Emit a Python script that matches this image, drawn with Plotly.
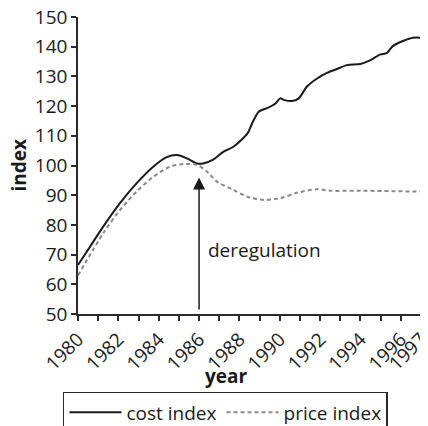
import plotly.graph_objects as go

# ---- data ----
cost_years = [1980.0, 1980.6, 1981.25, 1982.08, 1982.9, 1983.73, 1984.4, 1984.9, 1985.4, 1985.9,
              1986.2, 1986.7, 1987.2, 1987.7, 1988.4, 1988.63, 1988.96, 1989.37, 1989.79, 1990.03,
              1990.2, 1990.6, 1990.94, 1991.35, 1991.85, 1992.34, 1992.84, 1993.33, 1994.0, 1994.5,
              1994.99, 1995.3, 1995.6, 1996.14, 1996.6, 1997.0]
cost_index = [66.5, 72.7, 79.4, 87.3, 94.0, 99.6, 102.8, 103.5, 102.4, 100.7,
              100.7, 102.0, 104.6, 106.3, 110.8, 114.2, 118.1, 119.3, 120.9, 122.6,
              122.1, 121.7, 122.6, 126.6, 129.3, 131.2, 132.5, 133.8, 134.2, 135.5,
              137.4, 137.8, 140.2, 142.0, 143.0, 143.0]

price_years = [1980.0, 1981.25, 1982.08, 1982.9, 1983.73, 1984.55, 1985.2, 1985.9, 1986.4, 1986.9,
               1987.7, 1988.4, 1989.2, 1990.03, 1990.85, 1991.85, 1992.5, 1994.0, 1997.0]
price_index = [63.0, 77.2, 85.0, 91.2, 96.2, 99.6, 100.5, 100.2, 97.9, 94.5,
               91.8, 89.5, 88.4, 89.0, 90.8, 92.0, 91.5, 91.5, 91.2]

tick_years = list(range(1980, 1998))
tick_labels = [str(y) if (y % 2 == 0 or y == 1997) else "" for y in tick_years]
y_ticks = list(range(50, 151, 10))

event_year = 1986
event_label = "deregulation"

FONT = "Open Sans"
FS = 19
AX = "#2a2a2a"

fig = go.Figure()
fig.add_trace(go.Scatter(x=cost_years, y=cost_index, mode="lines", name="cost index",
                         line=dict(color="#1a1a1a", width=2, shape="spline", smoothing=0.8)))
fig.add_trace(go.Scatter(x=price_years, y=price_index, mode="lines", name="price index",
                         line=dict(color="#8a8a8a", width=2, dash="4px,3px", shape="spline", smoothing=0.8)))

# page has an 8px body margin, so the figure is 8px smaller and margins shifted
fig.update_layout(
    width=420, height=418,
    margin=dict(l=70, r=7, t=9, b=112, autoexpand=False),
    plot_bgcolor="white", paper_bgcolor="white",
    font=dict(family=FONT, size=FS, color="#1a1a1a"),
    showlegend=True,
    legend=dict(orientation="h", x=0.43, xanchor="center", y=-0.262, yanchor="top",
                bordercolor=AX, borderwidth=1.5, font=dict(size=FS, family=FONT),
                itemwidth=52, tracegroupgap=0),
    xaxis=dict(range=[1980, 1997], tickvals=tick_years, ticktext=tick_labels, tickangle=-45,
               ticks="outside", ticklen=5, tickwidth=1.5, tickcolor=AX, ticklabeloverflow="allow",
               showline=True, linecolor=AX, linewidth=1.5, showgrid=False, zeroline=False,
               tickfont=dict(size=FS)),
    yaxis=dict(range=[50, 150], tickvals=y_ticks, ticks="outside", ticklen=5, tickwidth=1.5,
               tickcolor=AX, showline=True, linecolor=AX, linewidth=1.5, showgrid=False,
               zeroline=False, tickfont=dict(size=FS), ticklabeloverflow="allow"),
    annotations=[
        dict(x=event_year, y=96, ax=event_year, ay=51, xref="x", yref="y", axref="x", ayref="y",
             showarrow=True, arrowhead=2, arrowsize=1.6, arrowwidth=1.5, arrowcolor="#1a1a1a", text=""),
        dict(x=event_year + 0.35, y=71.5, xref="x", yref="y", text=event_label, showarrow=False,
             xanchor="left", yanchor="middle", font=dict(size=FS)),
        dict(x=0, y=0.5, xref="paper", yref="paper", text="<b>index</b>", textangle=-90,
             showarrow=False, xanchor="center", yanchor="middle", xshift=-60, font=dict(size=FS)),
        dict(x=0.4315, y=0, xref="paper", yref="paper", text="<b>year</b>", showarrow=False,
             xanchor="center", yanchor="middle", yshift=-62, font=dict(size=FS)),
    ],
)

fig.write_html("out.html")
